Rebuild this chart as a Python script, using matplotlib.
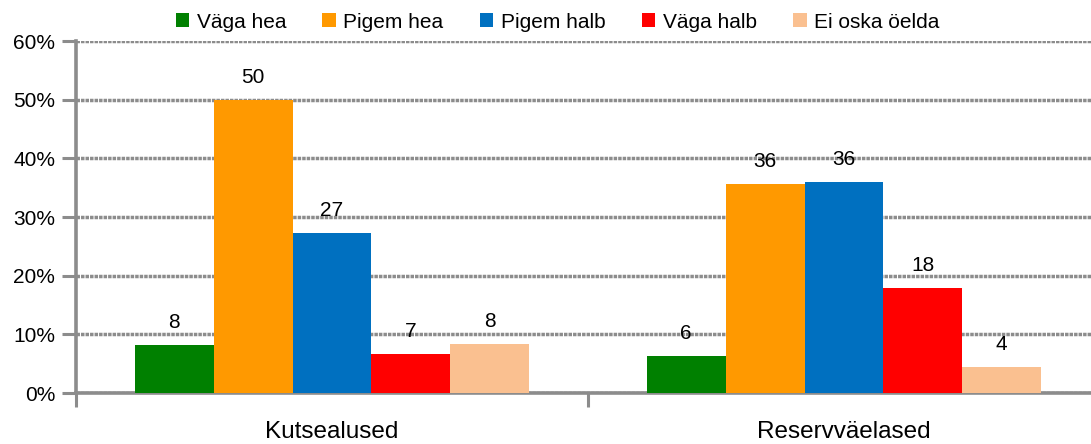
import numpy as np
import matplotlib
matplotlib.use('Agg')
import matplotlib.pyplot as plt
from matplotlib.ticker import FixedLocator, PercentFormatter

plt.rcParams['font.family'] = ['Liberation Sans', 'DejaVu Sans']

categories = ['Kutsealused', 'Reservväelased']
series = ['Väga hea', 'Pigem hea', 'Pigem halb', 'Väga halb', 'Ei oska öelda']
colors = ['#008000', '#FF9900', '#0070C0', '#FF0000', '#FAC090']
values = {
    'Väga hea': [8.2, 6.3],
    'Pigem hea': [50.0, 35.6],
    'Pigem halb': [27.3, 36.0],
    'Väga halb': [6.6, 17.9],
    'Ei oska öelda': [8.3, 4.4],
}

GRAY = '#8C8C8C'

fig = plt.figure(figsize=(10.91, 4.44), dpi=100)
ax = fig.add_axes([76 / 1091, 51 / 444, 1024 / 1091, 352 / 444])

x = np.arange(len(categories))
w = 0.154
for i, name in enumerate(series):
    pos = x + (i - 2) * w
    bars = ax.bar(pos, values[name], width=w, color=colors[i], label=name, zorder=3)
    for b, v in zip(bars, values[name]):
        ax.text(b.get_x() + b.get_width() / 2, v + 2.2, f'{round(v):d}',
                ha='center', va='bottom', fontsize=15, zorder=4)

ax.set_xlim(-0.5, 1.5)
ax.set_ylim(0, 60)
ax.set_yticks(range(0, 61, 10))
ax.yaxis.set_major_formatter(PercentFormatter(decimals=0))
ax.grid(axis='y', color=GRAY, linestyle=(0, (1, 0.3)), linewidth=2.5, zorder=1)

# category boundaries get the tick marks, names sit in between
ax.set_xticks([-0.5, 0.5, 1.5])
ax.set_xticklabels([])
ax.xaxis.set_minor_locator(FixedLocator(x))
ax.set_xticklabels(categories, minor=True)
ax.tick_params(axis='x', which='minor', length=0, pad=20, labelsize=17.5)
ax.tick_params(axis='x', which='major', length=10, width=2.2, color=GRAY)
ax.tick_params(axis='y', length=10, width=2.2, color=GRAY, labelsize=15, pad=5)

for s in ['top', 'right']:
    ax.spines[s].set_visible(False)
for s in ['left', 'bottom']:
    ax.spines[s].set_color(GRAY)
    ax.spines[s].set_linewidth(2.6)

fig.legend(loc='upper center', bbox_to_anchor=(0.511, 0.995), ncol=5, frameon=False,
           fontsize=15, handlelength=0.65, handleheight=0.65, handletextpad=0.35,
           columnspacing=1.75, borderaxespad=0.1)

fig.savefig('out.png', dpi=100)
